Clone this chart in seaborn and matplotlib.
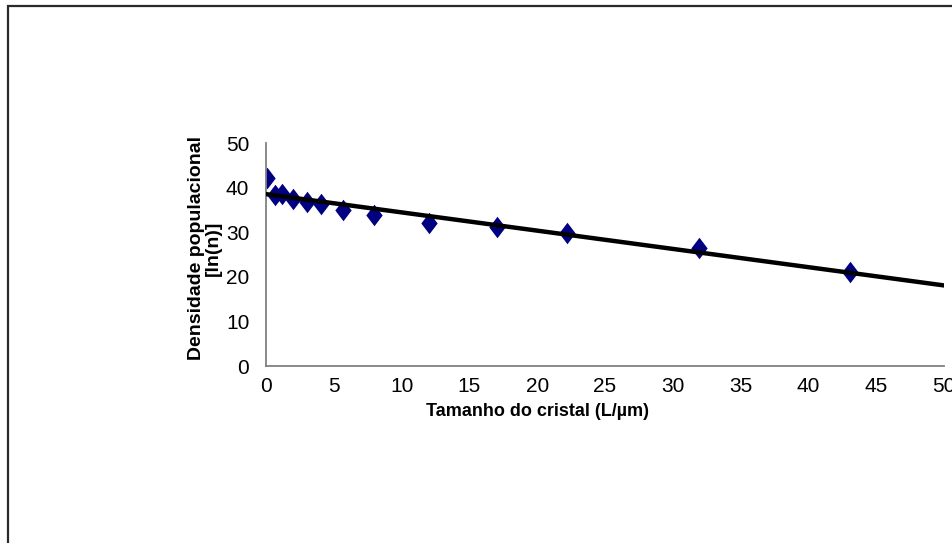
import matplotlib
matplotlib.use("Agg")
import matplotlib.pyplot as plt
import seaborn as sns
import pandas as pd
from matplotlib.patches import Rectangle
from matplotlib import font_manager

# Data
crystal_size = [0.1, 0.7, 1.15, 2.0, 3.05, 4.05, 5.65, 7.95, 12.0, 17.0, 22.2, 31.95, 43.1]
ln_density = [42.3, 38.5, 38.7, 37.5, 36.9, 36.4, 35.0, 33.9, 32.0, 31.1, 29.9, 26.4, 21.2]
x_ticks = [0, 5, 10, 15, 20, 25, 30, 35, 40, 45, 50]
y_ticks = [0, 10, 20, 30, 40, 50]
x_label = "Tamanho do cristal (L/µm)"
y_label = "Densidade populacional\n[ln(n)]"

df = pd.DataFrame({"L": crystal_size, "lnn": ln_density})

sns.set_theme(style="white")
plt.rcParams["font.family"] = ["Liberation Sans", "DejaVu Sans"]

installed = {f.name for f in font_manager.fontManager.ttflist}
if "Liberation Sans Narrow" in installed:
    tick_family = ["Liberation Sans Narrow", "Liberation Sans"]
    tick_size = 17
else:
    tick_family = ["Liberation Sans", "DejaVu Sans"]
    tick_size = 15

fig = plt.figure(figsize=(9.52, 5.43), dpi=100)
ax = fig.add_axes([266 / 952, 1 - 366 / 543, (944 - 266) / 952, (366 - 143.3) / 543])

diamond = [(0, 1), (0.76, 0), (0, -1), (-0.76, 0), (0, 1)]
sns.scatterplot(data=df, x="L", y="lnn", ax=ax, marker=diamond, s=240,
                color="#000080", edgecolor="#000080", linewidth=0, zorder=2)
ax.set_xlim(0, 50)
ax.set_ylim(0, 50)
sns.regplot(data=df, x="L", y="lnn", ax=ax, scatter=False, ci=None, truncate=False,
            line_kws={"color": "black", "linewidth": 3.2, "zorder": 3})

ax.set_xticks(x_ticks)
ax.set_yticks(y_ticks)
ax.set_xticklabels([str(t) for t in x_ticks], family=tick_family, fontsize=tick_size)
ax.set_yticklabels([str(t) for t in y_ticks], family=tick_family, fontsize=tick_size)
ax.tick_params(axis="both", direction="out", length=5, width=1.2, color="#808080",
               labelcolor="black")
ax.tick_params(axis="x", pad=3)
ax.tick_params(axis="y", pad=7)
for side in ["top", "right"]:
    ax.spines[side].set_visible(False)
for side in ["left", "bottom"]:
    ax.spines[side].set_color("#808080")
    ax.spines[side].set_linewidth(1.3)
ax.grid(False)
ax.set_xlabel("")
ax.set_ylabel("")

fig.text(538 / 952, 1 - 411 / 543, x_label, ha="center", va="center",
         fontsize=13, fontweight="bold", color="black")
fig.text(205 / 952, 1 - 248 / 543, y_label, ha="center", va="center", rotation=90,
         multialignment="center", fontsize=14, fontweight="bold", color="black",
         linespacing=1.0)

border = Rectangle((7.5 / 952, -0.2), 1.2, 1.2 - 5.5 / 543, transform=fig.transFigure,
                   fill=False, edgecolor="#2a2a2a", linewidth=1.6, clip_on=False)
fig.add_artist(border)

fig.savefig("out.png", dpi=100, facecolor="white")
